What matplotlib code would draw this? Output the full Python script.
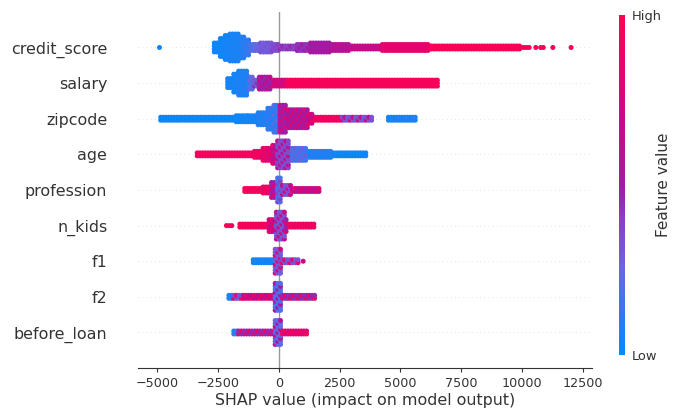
import numpy as np
import matplotlib
matplotlib.use("Agg")
import matplotlib.pyplot as plt
from matplotlib.colors import LinearSegmentedColormap
from matplotlib.cm import ScalarMappable

# feature order, top to bottom
features = ["credit_score", "salary", "zipcode", "age", "profession",
            "n_kids", "f1", "f2", "before_loan"]

# per feature: bin edges on the SHAP axis, dots stacked in each bin (0 = empty),
# and mean feature value of the bin (0 = low, 1 = high)
credit_score_edges = [-4950, -4850, -2700, -2450, -2250, -2050, -1600, -1400, -1200, -1000,
                      -800, -300, 0, 700, 1250, 2150, 2950, 4200, 6200, 9900,
                      10300, 10500, 10600, 10700, 10950, 11200, 11300, 11950, 12050]
credit_score_layers = [1, 0, 4, 7, 9, 10, 8, 6, 3, 3, 4, 3, 2, 3, 4, 3, 2, 3, 2, 1,
                       0, 1, 0, 1, 0, 1, 0, 1]
credit_score_values = [0.05, 0, 0.04, 0.04, 0.05, 0.06, 0.08, 0.12, 0.18, 0.25,
                       0.3, 0.36, 0.42, 0.46, 0.52, 0.6, 0.7, 0.85, 0.97, 0.97,
                       0, 0.97, 0, 0.97, 0, 0.97, 0, 0.97]

salary_edges = [-2150, -1900, -1700, -1250, -1050, -850, -250, 300, 6600]
salary_layers = [4, 7, 9, 5, 3, 5, 3, 3]
salary_values = [0.05, 0.05, 0.07, 0.2, 0.35, 0.55, 0.75, 0.95]

zipcode_edges = [-4900, -1800, -1300, -900, -500, -250, 0, 350, 1200, 1450, 2550, 3850, 4450, 5700]
zipcode_layers = [2, 3, 3, 5, 8, 10, 10, 7, 4, 2, 2, 0, 2]
zipcode_values = [0.03, 0.04, 0.05, 0.08, 0.1, 0.15, 0.6, 0.62, 0.75, 0.92, 0.45, 0, 0.05]

age_edges = [-3400, -1050, -700, -300, -100, 500, 1200, 2200, 3650]
age_layers = [2, 3, 5, 7, 10, 5, 3, 2]
age_values = [0.95, 0.92, 0.85, 0.7, 0.45, 0.2, 0.08, 0.05]

profession_edges = [-1450, -700, -350, -100, 100, 500, 1750]
profession_layers = [2, 3, 6, 9, 4, 2]
profession_values = [0.95, 0.9, 0.6, 0.25, 0.45, 0.7]

n_kids_edges = [-2200, -1900, -1650, -450, -150, 250, 400, 1450]
n_kids_layers = [1, 0, 2, 5, 10, 5, 2]
n_kids_values = [0.95, 0, 0.95, 0.75, 0.45, 0.6, 0.92]

f1_edges = [-1100, -200, 80, 800, 950, 1050]
f1_layers = [2, 9, 2, 0, 1]
f1_values = [0.05, 0.45, 0.5, 0, 0.4]

f2_edges = [-2100, -1900, -1500, -200, 100, 1550]
f2_layers = [2, 2, 2, 10, 2]
f2_values = [0.05, 0.5, 0.75, 0.3, 0.6]

before_loan_edges = [-1900, -1700, -200, 100, 1150]
before_loan_layers = [2, 2, 9, 2]
before_loan_values = [0.1, 0.6, 0.35, 0.85]

xticks = [-5000, -2500, 0, 2500, 5000, 7500, 10000, 12500]

rows = {
    "credit_score": (credit_score_edges, credit_score_layers, credit_score_values),
    "salary": (salary_edges, salary_layers, salary_values),
    "zipcode": (zipcode_edges, zipcode_layers, zipcode_values),
    "age": (age_edges, age_layers, age_values),
    "profession": (profession_edges, profession_layers, profession_values),
    "n_kids": (n_kids_edges, n_kids_layers, n_kids_values),
    "f1": (f1_edges, f1_layers, f1_values),
    "f2": (f2_edges, f2_layers, f2_values),
    "before_loan": (before_loan_edges, before_loan_layers, before_loan_values),
}
# how strongly low/high dots are interleaved inside a bin (style only)
mixing = {"credit_score": 0.1, "salary": 0.3, "zipcode": 0.55, "age": 0.45,
          "profession": 0.55, "n_kids": 0.55, "f1": 0.7, "f2": 0.7, "before_loan": 0.7}

cmap = LinearSegmentedColormap.from_list("red_blue", [
    (0.0, "#008bfb"), (0.25, "#6a66e2"), (0.4, "#8a3fc4"), (0.5, "#a01aa4"),
    (0.7, "#c80a88"), (1.0, "#ff0052")])

col_step = 110      # SHAP units between dot columns
layer_step = 0.084  # row units between stacked dots

fig = plt.figure(figsize=(6.76, 4.09), dpi=100)
ax = fig.add_axes([0.204, 0.100, 0.672, 0.871])

for i, name in enumerate(features):
    row = len(features) - 1 - i
    edges, layers, values = rows[name]
    xs, ys, cs = [], [], []
    for j in range(len(layers)):
        lo, hi, n, v = edges[j], edges[j + 1], layers[j], values[j]
        if n == 0:
            continue
        cols = np.arange(lo + col_step / 2, hi, col_step)
        if len(cols) == 0:
            cols = [(lo + hi) / 2]
        amp = mixing[name] * min(v, 1 - v)
        for c, x in enumerate(cols):
            for k in range(n):
                xs.append(x)
                ys.append(row + (k - (n - 1) / 2) * layer_step)
                cs.append(v + amp * (1 if (c * 2 + k) % 3 == 0 else -0.5))
    ax.scatter(xs, ys, c=np.clip(cs, 0, 1), cmap=cmap, vmin=0, vmax=1,
               s=13, linewidth=0, zorder=3)
    ax.axhline(row, color="#cccccc", lw=0.5, dashes=(1, 5), zorder=-1)

ax.axvline(0, color="#999999", lw=1, zorder=-1)

ax.set_xlim(-5780, 12870)
ax.set_ylim(-1, len(features))
ax.set_yticks(range(len(features)))
ax.set_yticklabels(features[::-1], fontsize=11.4, color="#333333")
ax.set_xticks(xticks)
ax.tick_params(axis="x", labelsize=9.2, colors="#333333", length=3)
ax.tick_params(axis="y", length=0, pad=22)
for s in ["top", "right", "left"]:
    ax.spines[s].set_visible(False)
ax.spines["bottom"].set_color("#333333")
ax.set_xlabel("SHAP value (impact on model output)", fontsize=11.4, color="#333333", labelpad=2)

cax = fig.add_axes([0.9157, 0.132, 0.0089, 0.831])
sm = ScalarMappable(cmap=cmap)
sm.set_array([0, 1])
cb = fig.colorbar(sm, cax=cax, ticks=[0, 1])
cb.set_ticklabels(["Low", "High"])
cb.outline.set_visible(False)
cax.tick_params(length=0, labelsize=9.4, pad=5, colors="#333333")
cb.set_label("Feature value", size=11, labelpad=-4, color="#333333")

fig.savefig("out.png", dpi=100)
